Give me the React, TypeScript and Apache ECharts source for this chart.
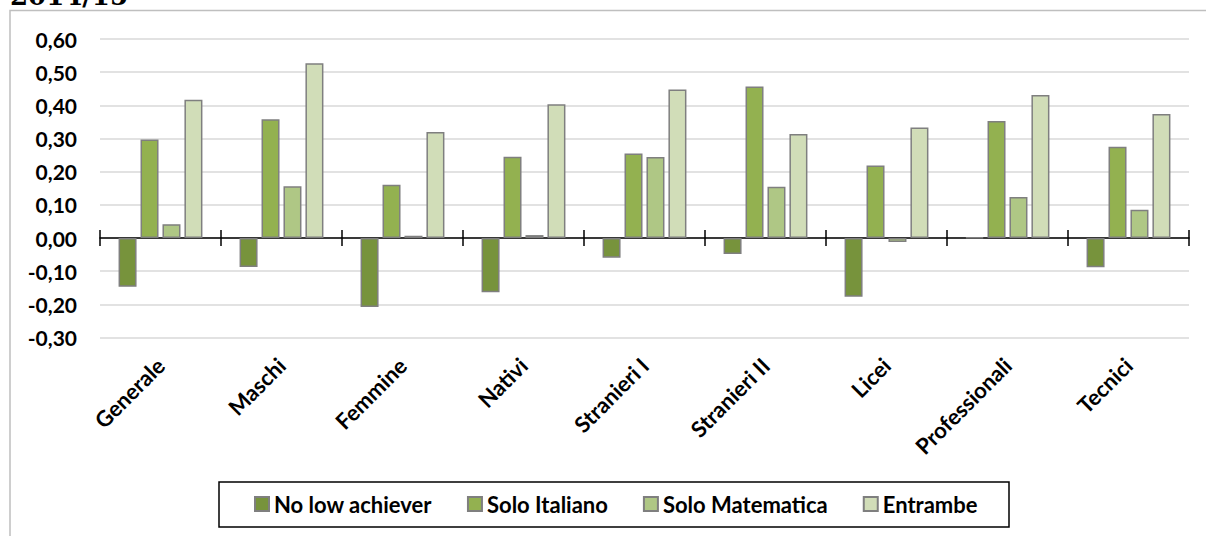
import React, { useEffect, useRef } from 'react';
import * as echarts from 'echarts';

const categories = ['Generale', 'Maschi', 'Femmine', 'Nativi', 'Stranieri I', 'Stranieri II', 'Licei', 'Professionali', 'Tecnici'];
const seriesNames = ['No low achiever', 'Solo Italiano', 'Solo Matematica', 'Entrambe'];
const noLowAchiever = [-0.147, -0.087, -0.208, -0.163, -0.059, -0.048, -0.177, 0.002, -0.088];
const soloItaliano = [0.297, 0.358, 0.161, 0.245, 0.255, 0.457, 0.219, 0.353, 0.275];
const soloMatematica = [0.042, 0.156, 0.007, 0.009, 0.244, 0.155, -0.012, 0.124, 0.085];
const entrambe = [0.417, 0.527, 0.32, 0.403, 0.448, 0.314, 0.333, 0.431, 0.374];
const seriesColors = ['#77933c', '#93b150', '#afc785', '#d1ddb8'];
const yMin = -0.3;
const yMax = 0.6;
const yStep = 0.1;
const titleText = '2014/15';

const FONT = 'Lato, "Open Sans", sans-serif';

export default function App() {
  const ref = useRef<HTMLDivElement>(null);
  useEffect(() => {
    if (!ref.current) return;
    const chart = echarts.init(ref.current, undefined, { renderer: 'svg' });
    const values = [noLowAchiever, soloItaliano, soloMatematica, entrambe];
    const textBase = { fontFamily: FONT, fontWeight: 'bold' as const, color: '#000' };
    chart.setOption({
      animation: false,
      backgroundColor: '#fff',
      textStyle: { fontFamily: FONT },
      grid: { left: 100, right: 17, top: 39, bottom: 198.4, containLabel: false },
      graphic: [
        {
          type: 'rect',
          shape: { x: 10, y: 10.5, width: 1400, height: 700 },
          style: { fill: 'none', stroke: '#bfbfbf', lineWidth: 1.5 },
          silent: true,
        },
        {
          type: 'text',
          x: 10,
          y: 9,
          style: {
            text: titleText,
            font: 'bold 26px "DejaVu Serif", serif',
            fill: '#000',
            verticalAlign: 'bottom',
            align: 'left',
          },
        },
        {
          type: 'rect',
          shape: { x: 219, y: 482, width: 790, height: 45 },
          style: { fill: 'none', stroke: '#000', lineWidth: 1.5 },
          silent: true,
        },
      ],
      legend: {
        data: seriesNames,
        left: 254,
        top: 493,
        padding: 0,
        itemWidth: 14,
        itemHeight: 14,
        itemGap: 35,
        icon: 'rect',
        textStyle: { ...textBase, fontSize: 22, lineHeight: 22 },
      },
      xAxis: [
        {
          type: 'category',
          data: categories,
          position: 'bottom',
          axisLine: { onZero: true, onZeroAxisIndex: 0, lineStyle: { color: '#000', width: 1.5 } },
          axisTick: { show: true, length: 8, lineStyle: { color: '#000', width: 1.5 } },
          axisLabel: { show: false },
          splitLine: { show: false },
        },
        {
          type: 'category',
          data: categories,
          position: 'bottom',
          axisLine: { show: false, onZero: true, onZeroAxisIndex: 1 },
          axisTick: { show: true, inside: true, length: 8, lineStyle: { color: '#000', width: 1.5 } },
          axisLabel: { show: false },
          splitLine: { show: false },
        },
        {
          type: 'category',
          data: categories,
          position: 'bottom',
          axisLine: { show: false, onZero: false },
          axisTick: { show: false },
          axisLabel: { ...textBase, fontSize: 22, rotate: 45, margin: 24, interval: 0 },
          splitLine: { show: false },
        },
      ],
      yAxis: [
        {
          type: 'value',
          min: yMin,
          max: yMax,
          interval: yStep,
          axisLine: { show: false },
          axisTick: { show: false },
          splitLine: { lineStyle: { color: '#d9d9d9', width: 1.5 } },
          axisLabel: {
            ...textBase,
            fontSize: 21,
            margin: 23,
            formatter: (v: number) => v.toFixed(2).replace('.', ','),
          },
        },
        {
          type: 'value',
          min: yMin,
          max: yMax,
          interval: yStep,
          position: 'right',
          axisLine: { show: false },
          axisTick: { show: false },
          axisLabel: { show: false },
          splitLine: { show: false },
        },
      ],
      series: seriesNames.map((name, i) => ({
        name,
        type: 'bar',
        xAxisIndex: 0,
        yAxisIndex: 0,
        data: values[i],
        barWidth: 18,
        barGap: '22%',
        itemStyle: { color: seriesColors[i], borderColor: '#7f7f7f', borderWidth: 1.5 },
      })),
    });
    return () => chart.dispose();
  }, []);
  return <div ref={ref} style={{ position: 'fixed', left: 0, top: 0, width: 1206, height: 536 }} />;
}
